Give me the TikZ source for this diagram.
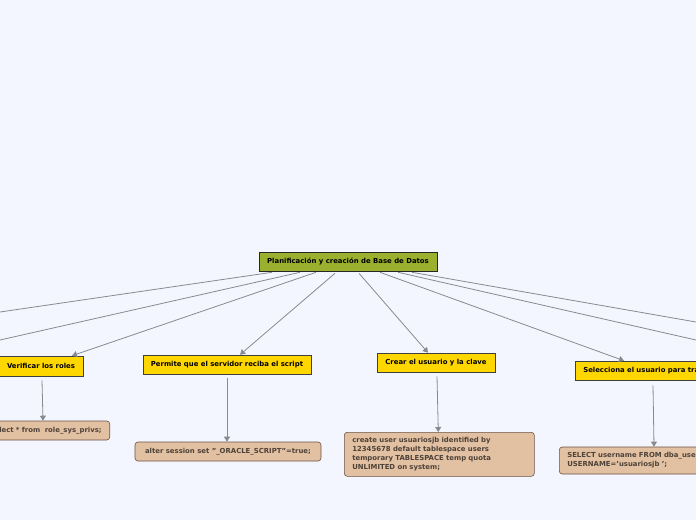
\documentclass[tikz,border=0pt]{standalone}
\usepackage{fontspec}
\setmainfont{DejaVu Sans}
\usetikzlibrary{arrows.meta,positioning}
\definecolor{bgPale}{HTML}{F3F6FE}
\definecolor{rootGreen}{HTML}{9BB02E}
\definecolor{topicGold}{HTML}{FFD700}
\definecolor{codeTan}{HTML}{E2C0A2}
\definecolor{codeEdge}{HTML}{6B5343}
\definecolor{codeInk}{HTML}{4E4238}
\definecolor{linkGrey}{HTML}{8A8A8E}
\tikzset{
  mapbox/.style={draw=black!85, line width=.6pt, align=center,
    font=\bfseries\fontsize{6.9}{8}\selectfont, inner sep=0pt, minimum height=19pt},
  rootbox/.style={mapbox, fill=rootGreen},
  topicbox/.style={mapbox, fill=topicGold, draw=black!75},
  codebox/.style={draw=codeEdge, fill=codeTan, rounded corners=3pt, line width=.6pt,
    font=\bfseries\fontsize{6.9}{9}\selectfont, text=codeInk, inner xsep=8pt, inner ysep=0pt,
    minimum height=19pt},
  link/.style={draw=linkGrey, line width=.8pt, -{Triangle[length=5pt,width=6pt]}},
  farlink/.style={draw=linkGrey, line width=.8pt}
}
\begin{document}
\begin{tikzpicture}[x=1pt,y=-1pt]
  \fill[bgPale] (0,0) rectangle (696,520);
  \clip (0,0) rectangle (696,520);

  \node[rootbox, minimum width=178pt] (root) at (348,261.5) {Planificación y creación de Base de Datos};

  \node[topicbox, minimum width=84pt, minimum height=20pt] (verif) at (41,366) {Verificar los roles};
  \node[topicbox, minimum width=168pt] (permite) at (227,364.5) {Permite que el servidor reciba el script};
  \node[topicbox, minimum width=118pt] (crear) at (436,362.5) {Crear el usuario y la clave};
  \node[topicbox, anchor=west, align=left, inner xsep=8pt, text width=160pt] (selec) at (575,370.5) {Selecciona el usuario para trabajar};

  \node[codebox, anchor=east, text width=134pt, align=right] (roles) at (110,430.5) {select * from~~role\_sys\_privs;};
  \node[codebox, minimum width=186pt] (session) at (228,451.5) {alter session set "\_ORACLE\_SCRIPT"=true;};
  \node[codebox, anchor=north west, text width=174pt, align=left, minimum height=44pt] (usuario) at (344,432)
    {create user usuariosjb identified by\\12345678 default tablespace users\\temporary TABLESPACE temp quota\\UNLIMITED on system;};
  \node[codebox, anchor=west, text width=190pt, align=left, minimum height=27pt] (consulta) at (559,460.5)
    {SELECT username FROM dba\_users WHERE\\USERNAME='usuariosjb ';};

  % branches that leave the visible area
  \coordinate (offLeftA) at (0,312);
  \coordinate (offLeftB) at (0,340);
  \coordinate (offRightA) at (696,322);
  \coordinate (offRightB) at (696,340);

  \draw[farlink] ([xshift=-76pt, yshift=-1pt]root.south) -- (offLeftA);
  \draw[farlink] ([xshift=-48pt, yshift=-1pt]root.south) -- (offLeftB);
  \draw[farlink] ([xshift=50pt, yshift=-1pt]root.south) -- (offRightB);
  \draw[farlink] ([xshift=64pt, yshift=-1pt]root.south) -- (offRightA);

  \draw[link] ([xshift=-32pt, yshift=-1pt]root.south) -- ([xshift=31pt]verif.north);
  \draw[link] ([xshift=-13pt, yshift=-2pt]root.south) -- ([xshift=13pt]permite.north);
  \draw[link] ([xshift=11pt, yshift=-2pt]root.south) -- ([xshift=-8pt]crear.north);
  \draw[link] ([xshift=32pt, yshift=-1pt]root.south) -- ([xshift=49pt]selec.north west);

  \draw[link] ([xshift=1pt, yshift=-4pt]verif.south) -- ([xshift=2pt]verif.south |- roles.north);
  \draw[link] ([yshift=-4pt]permite.south) -- (permite.south |- session.north);
  \draw[link] ([xshift=1pt, yshift=-4pt]crear.south) -- ([xshift=-1pt]usuario.north);
  \draw[link] ([xshift=78pt, yshift=-5pt]selec.south west) -- ([xshift=95pt]consulta.north west);
\end{tikzpicture}
\end{document}
